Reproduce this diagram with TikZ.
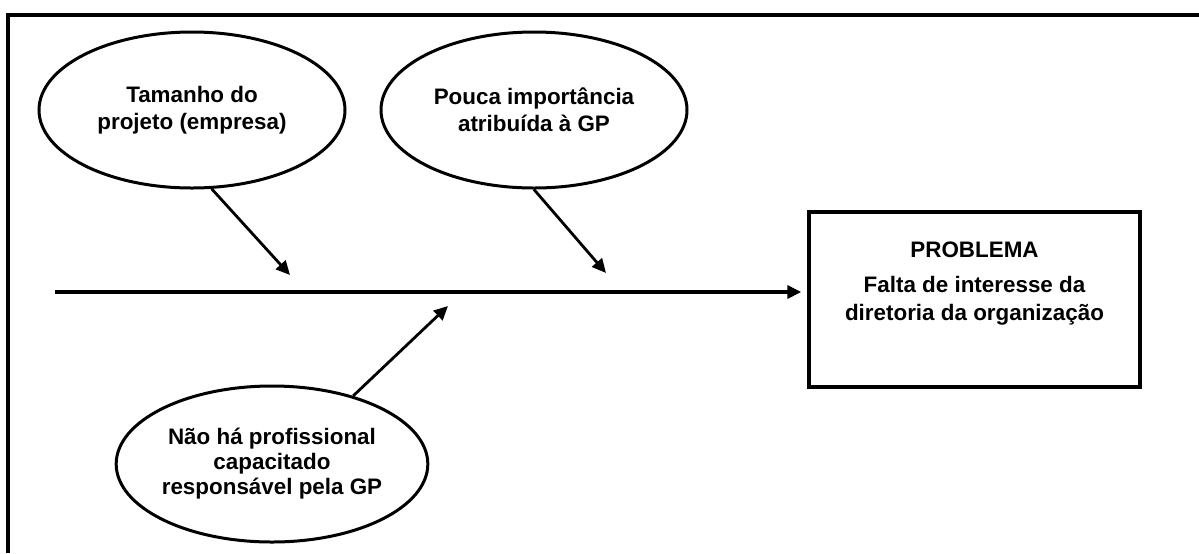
\documentclass[tikz,border=0pt]{standalone}
\usepackage{fontspec}
\setmainfont{Liberation Sans}
\usetikzlibrary{shapes.geometric,arrows.meta}
\begin{document}
\begin{tikzpicture}[x=0.5pt, y=-0.5pt]
		\tikzstyle{cause} = [shape=ellipse, draw, line width=1.5pt, minimum width=153pt, minimum height=78pt, inner sep=0pt, align=center, font=\fontsize{11.2}{13.5}\selectfont\bfseries]
		\tikzstyle{link} = [line width=1.4pt, -{Triangle[length=7pt, width=6.5pt]}]
		\useasboundingbox (0,0) rectangle (1199,553);
		\draw [line width=1.7pt] (8,553) -- (8,15) -- (1199,15);
		\node [cause] (size) at (192,110) {Tamanho do\\projeto (empresa)};
		\node [cause] (value) at (534,110) {Pouca importância\\atribuída à GP};
		\node [cause, font=\fontsize{11.2}{12.5}\selectfont\bfseries] (staff) at (272,464) {Não há profissional\\capacitado\\responsável pela GP};
		\node [draw, line width=1.7pt, minimum width=165.5pt, minimum height=87.5pt] (prob) at (974.5,299.5) {};
		\node [anchor=north, inner sep=0pt, align=center, font=\fontsize{11.2}{14}\selectfont\bfseries] (probtext) at ([yshift=-15.5pt]prob.north) {PROBLEMA\\[3.5pt]Falta de interesse da\\diretoria da organização};
		\coordinate (spine) at (55,292);
		\coordinate (t1) at (290,275);
		\coordinate (t2) at (606,273);
		\coordinate (t3) at (448,306);
		\draw [link, line width=1.8pt, shorten >=3pt] (spine) -- (spine -| prob.west);
		\draw [link] (size.-76) -- (t1);
		\draw [link] (value.south) -- (t2);
		\draw [link] (staff.40) -- (t3);
	\end{tikzpicture}
\end{document}
